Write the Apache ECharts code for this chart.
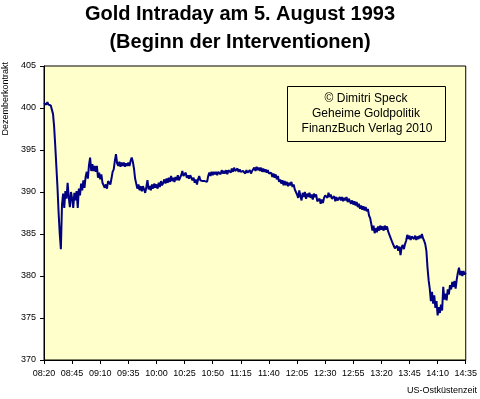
<!DOCTYPE html>
<html>
<head>
<meta charset="utf-8">
<script src="https://cdn.jsdelivr.net/npm/echarts@6/dist/echarts.min.js"></script>
<style>
html, body { margin: 0; padding: 0; background: #fff; }
#chart { width: 480px; height: 399px; }
</style>
</head>
<body>
<div id="chart"></div>
<script>
// minutes after midnight of the first quote (08:20), one quote per minute
var startMinute = 500;
var endMinute = 875;

// price per minute, one array for each 25-minute section
var seg0820 = [400.6, 400.8, 400.4, 400.7, 400.4, 400.5, 400.3, 400.1, 399.3, 397.8,
               395.5, 393.0, 390.5, 387.5, 385.0, 383.2, 388.5, 389.8, 388.1, 390.1,
               389.2, 391.1, 389.4, 388.2, 390.0];
var seg0845 = [389.2, 388.1, 389.9, 389.0, 390.1, 388.1, 390.4, 389.6, 391.0, 390.2,
               391.4, 390.5, 391.8, 392.4, 391.6, 393.2, 394.1, 392.5, 393.3, 392.5,
               393.1, 392.4, 393.1, 391.7, 392.3];
var seg0910 = [391.5, 392.1, 391.1, 391.0, 390.5, 390.9, 390.4, 391.3, 391.4, 390.9,
               391.6, 392.4, 392.7, 393.7, 394.5, 393.4, 393.1, 393.6, 393.0, 393.5,
               393.1, 393.5, 393.0, 393.4, 393.1];
var seg0935 = [393.5, 393.1, 393.7, 394.1, 393.6, 392.8, 391.6, 391.0, 390.4, 390.9,
               390.2, 390.7, 390.1, 390.7, 390.3, 389.9, 390.6, 391.4, 390.3, 390.7,
               390.2, 390.9, 390.4, 391.0, 390.5];
var seg1000 = [390.9, 390.4, 391.1, 390.6, 391.3, 390.8, 391.1, 391.5, 391.0, 391.6,
               391.1, 391.7, 391.2, 391.9, 391.3, 391.7, 391.2, 391.8, 391.4, 392.0,
               391.4, 391.2, 392.0, 392.5, 391.9];
var seg1025 = [391.7, 392.3, 391.7, 392.0, 391.6, 392.0, 391.7, 391.4, 391.7, 391.1,
               391.5, 390.9, 391.5, 391.9, 391.4, 391.5, 391.3, 391.5, 391.3, 391.5,
               391.2, 391.9, 392.3, 391.9, 392.4];
var seg1050 = [392.0, 392.4, 392.1, 392.4, 392.0, 392.4, 392.5, 392.1, 392.6, 392.2,
               392.5, 392.2, 392.6, 392.1, 392.6, 392.7, 392.3, 392.8, 392.4, 392.9,
               392.5, 392.4, 392.8, 392.4, 392.7];
var seg1115 = [392.4, 392.2, 392.5, 392.7, 392.2, 392.6, 392.3, 392.2, 392.6, 392.2,
               392.5, 392.7, 392.9, 392.5, 393.0, 392.6, 392.9, 392.5, 392.9, 392.4,
               392.8, 392.4, 392.7, 392.3, 392.6];
var seg1140 = [392.2, 392.1, 392.3, 391.8, 392.2, 391.7, 392.1, 391.5, 391.9, 391.2,
               391.5, 391.0, 391.4, 390.8, 391.3, 390.8, 391.2, 390.7, 391.1, 390.8,
               391.2, 390.6, 390.9, 390.3, 390.3];
var seg1205 = [389.7, 389.3, 390.2, 389.5, 389.0, 389.9, 389.4, 390.0, 389.2, 389.8,
               389.4, 389.9, 389.3, 389.7, 389.1, 389.8, 389.4, 389.7, 388.9, 388.7,
               389.2, 388.6, 389.1, 388.7, 389.3];
var seg1230 = [389.6, 389.8, 389.3, 389.9, 389.4, 389.7, 389.2, 389.0, 389.5, 388.9,
               389.4, 389.0, 388.8, 389.4, 389.0, 389.4, 388.9, 389.3, 389.0, 389.4,
               388.8, 389.2, 388.9, 388.6, 389.0];
var seg1255 = [388.5, 388.9, 388.4, 388.8, 388.2, 388.6, 388.0, 388.4, 387.9, 388.3,
               387.8, 388.2, 387.7, 388.0, 387.2, 386.9, 386.2, 385.4, 386.0, 385.1,
               385.7, 385.2, 385.9, 385.4, 386.0];
var seg1320 = [385.5, 385.9, 385.4, 386.0, 385.5, 385.9, 385.3, 385.1, 384.6, 384.4,
               383.9, 383.7, 383.3, 383.2, 383.6, 383.0, 383.5, 382.5, 383.4, 383.7,
               383.2, 383.8, 384.2, 384.9, 384.4];
var seg1345 = [384.8, 384.3, 384.7, 384.9, 384.4, 384.8, 384.3, 384.7, 384.4, 384.8,
               384.5, 385.0, 384.5, 384.2, 383.8, 383.0, 381.0, 379.5, 378.5, 377.0,
               378.1, 376.7, 377.7, 376.2, 377.0];
var seg1410 = [375.3, 376.3, 375.6, 376.6, 375.9, 378.7, 377.2, 377.9, 377.1, 378.4,
               377.8, 378.9, 378.4, 379.3, 378.7, 379.4, 378.5, 379.6, 380.4, 381.0,
               380.1, 380.6, 380.0, 380.6, 380.2, 380.4];

var chartTitle = 'Gold Intraday am 5. August 1993\n(Beginn der Interventionen)';
var yName = 'Dezemberkontrakt';
var xName = 'US-Ostküstenzeit';
var noteLines = ['© Dimitri Speck', 'Geheime Goldpolitik', 'FinanzBuch Verlag 2010'];

var prices = [].concat(seg0820, seg0845, seg0910, seg0935, seg1000, seg1025, seg1050,
    seg1115, seg1140, seg1205, seg1230, seg1255, seg1320, seg1345, seg1410);
var points = [];
for (var i = 0; i < prices.length; i++) {
    points.push([startMinute + i, prices[i]]);
}

function pad(n) { return n < 10 ? '0' + n : '' + n; }

var font = 'Arial, "Liberation Sans", sans-serif';
var chart = echarts.init(document.getElementById('chart'), null, { renderer: 'canvas' });

var option = {
    animation: false,
    backgroundColor: '#ffffff',
    title: {
        text: chartTitle,
        left: 'center',
        top: 0,
        padding: 0,
        textStyle: {
            fontFamily: font,
            fontSize: 20,
            fontWeight: 'bold',
            lineHeight: 28,
            color: '#000'
        }
    },
    grid: {
        left: 44,
        right: 13,
        top: 66,
        bottom: 39,
        show: true,
        backgroundColor: '#ffffcc',
        borderColor: '#000',
        borderWidth: 1
    },
    xAxis: {
        type: 'value',
        min: startMinute,
        max: endMinute,
        interval: 25,
        axisLine: { lineStyle: { color: '#000', width: 1 } },
        axisTick: { length: 4, lineStyle: { color: '#000' } },
        splitLine: { show: false },
        axisLabel: {
            margin: 9,
            color: '#000',
            fontFamily: font,
            fontSize: 9,
            formatter: function (v) {
                return pad(Math.floor(v / 60)) + ':' + pad(v % 60);
            }
        }
    },
    yAxis: {
        type: 'value',
        min: 370,
        max: 405,
        interval: 5,
        axisLine: { show: true, lineStyle: { color: '#000', width: 1 } },
        axisTick: { show: true, length: 4, lineStyle: { color: '#000' } },
        splitLine: { show: false },
        axisLabel: {
            margin: 8,
            color: '#000',
            fontFamily: font,
            fontSize: 9
        }
    },
    graphic: [
        {
            type: 'text',
            left: 1,
            top: 62,
            rotation: Math.PI / 2,
            style: { text: yName, font: '9px ' + font, fill: '#000' }
        },
        {
            type: 'text',
            right: 3,
            top: 386,
            style: { text: xName, font: '9px ' + font, fill: '#000' }
        },
        {
            type: 'rect',
            shape: { x: 287.5, y: 86.5, width: 158, height: 55 },
            style: { fill: 'none', stroke: '#000', lineWidth: 1 }
        },
        {
            type: 'text',
            x: 366,
            y: 99,
            style: { text: noteLines[0], font: '12px ' + font, fill: '#000', textAlign: 'center', textVerticalAlign: 'middle' }
        },
        {
            type: 'text',
            x: 366,
            y: 114,
            style: { text: noteLines[1], font: '12px ' + font, fill: '#000', textAlign: 'center', textVerticalAlign: 'middle' }
        },
        {
            type: 'text',
            x: 367,
            y: 129,
            style: { text: noteLines[2], font: '12px ' + font, fill: '#000', textAlign: 'center', textVerticalAlign: 'middle' }
        }
    ],
    series: [
        {
            type: 'line',
            data: points,
            showSymbol: false,
            symbol: 'none',
            lineStyle: { color: '#000080', width: 2 },
            z: 3
        }
    ]
};
chart.setOption(option);
</script>
</body>
</html>
